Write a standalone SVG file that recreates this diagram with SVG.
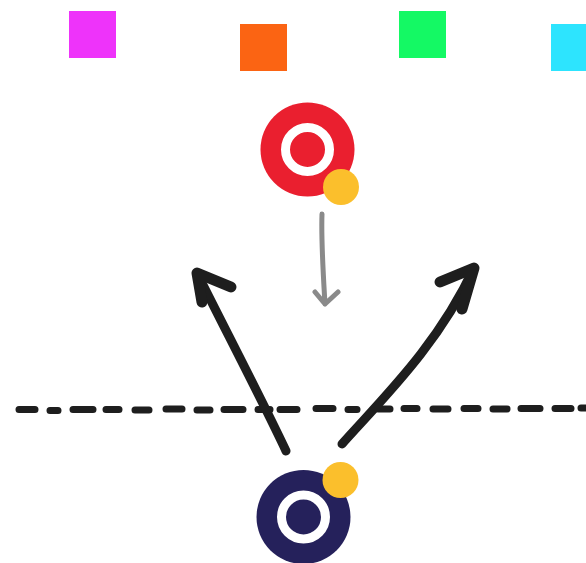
<svg xmlns="http://www.w3.org/2000/svg" width="586" height="563" viewBox="0 0 586 563">
<style>
.dash{stroke:#1e1e1e;stroke-width:7;stroke-linecap:round;fill:none}
.blk{stroke:#1e1e1e;stroke-width:9;stroke-linecap:round;stroke-linejoin:round;fill:none}
.head{stroke:#1e1e1e;stroke-width:11;stroke-linecap:round;stroke-linejoin:round;fill:none}
.gry{stroke:#8a8a8a;stroke-width:5;stroke-linecap:round;stroke-linejoin:round;fill:none}
.ring{fill:none;stroke:#ffffff;stroke-width:9}
.dot{fill:#fbbf2c}
</style>
<rect width="586" height="563" fill="#ffffff"/>
<g id="sq-magenta"><rect x="69" y="11" width="47" height="47" fill="#ee33fa"/></g>
<g id="sq-orange"><rect x="240" y="24" width="47" height="47" fill="#fb6413"/></g>
<g id="sq-green"><rect x="399" y="11" width="47" height="47" fill="#14f964"/></g>
<g id="sq-cyan"><rect x="551" y="24" width="47" height="47" fill="#2de4fe"/></g>
<g id="divider">
<path class="dash" d="M19 409.5h16M50 410.5h8M73 409.5h20M106 409.5h13M135 410h14M166 409h16M197 410h13M224 409.5h19M258 409.5h12M280 409.5h17M316 408.5h17M348 409.5h9M378 409h12M404 408.5h13M433 409h15M464 408.5h14M493 409h14M521 408.5h19M555 408.5h16M581 408h5"/>
</g>
<g id="target-red">
<circle cx="307.5" cy="149.5" r="47" fill="#ea1f2f"/>
<circle class="ring" cx="307.5" cy="149.5" r="22"/>
<circle class="dot" cx="341" cy="187" r="18"/>
</g>
<g id="target-navy">
<circle cx="303.5" cy="517" r="47" fill="#25215b"/>
<circle class="ring" cx="303.5" cy="517" r="22"/>
<circle class="dot" cx="340.5" cy="480" r="18"/>
</g>
<g id="connectors">
<path class="gry" d="M322 214C321 240 323 270 325 304M315 292L325 304L338 292"/>
<path class="blk" d="M286 451C262 400 228 335 197 273"/>
<path class="head" d="M231 287L197 273L202 302"/>
<path class="blk" d="M342 444C385 396 438 345 474 268"/>
<path class="head" d="M440 282L474 268L462 309"/>
</g>
</svg>
